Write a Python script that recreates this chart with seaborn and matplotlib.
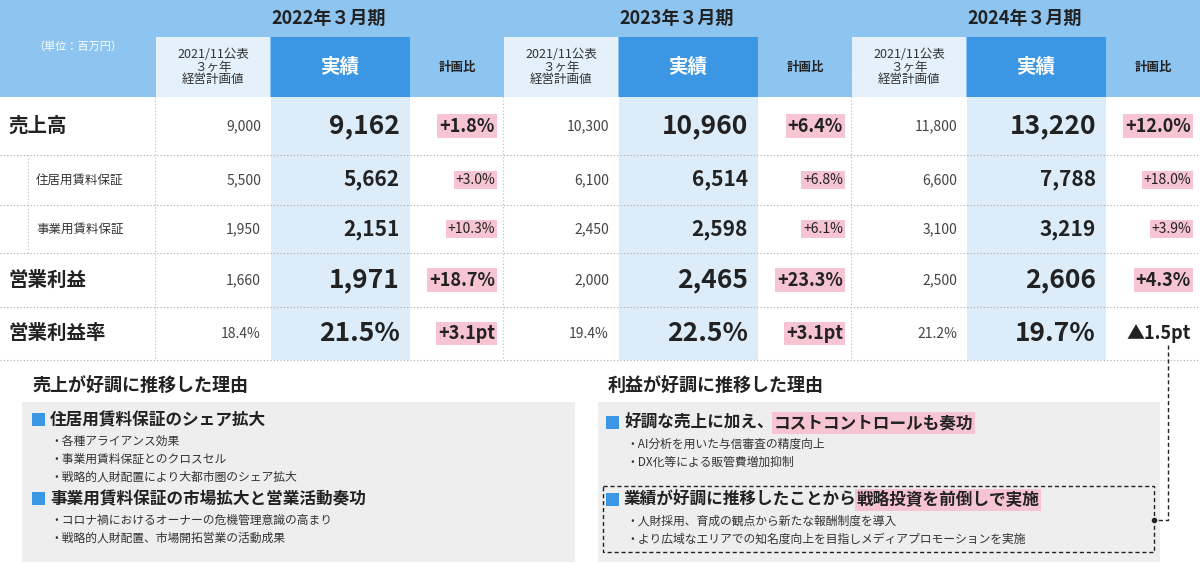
import matplotlib
matplotlib.use("Agg")
import matplotlib.pyplot as plt
import seaborn as sns
from matplotlib.patches import Rectangle

sns.set_theme(style="white")
plt.rcParams["font.family"] = "Noto Sans CJK JP"

years = ["2022年３月期", "2023年３月期", "2024年３月期"]
row_labels = ["売上高", "住居用賃料保証", "事業用賃料保証", "営業利益", "営業利益率"]
plan = [["9,000", "5,500", "1,950", "1,660", "18.4%"],
        ["10,300", "6,100", "2,450", "2,000", "19.4%"],
        ["11,800", "6,600", "3,100", "2,500", "21.2%"]]
actual = [["9,162", "5,662", "2,151", "1,971", "21.5%"],
          ["10,960", "6,514", "2,598", "2,465", "22.5%"],
          ["13,220", "7,788", "3,219", "2,606", "19.7%"]]
ratio = [["+1.8%", "+3.0%", "+10.3%", "+18.7%", "+3.1pt"],
         ["+6.4%", "+6.8%", "+6.1%", "+23.3%", "+3.1pt"],
         ["+12.0%", "+18.0%", "+3.9%", "+4.3%", "▲1.5pt"]]
left_title = "売上が好調に推移した理由"
left_items = [("住居用賃料保証のシェア拡大", ["・各種アライアンス効果", "・事業用賃料保証とのクロスセル", "・戦略的人財配置により大都市圏のシェア拡大"]),
              ("事業用賃料保証の市場拡大と営業活動奏功", ["・コロナ禍におけるオーナーの危機管理意識の高まり", "・戦略的人財配置、市場開拓営業の活動成果"])]
right_title = "利益が好調に推移した理由"
right_items = [("好調な売上に加え、", "コストコントロールも奏功", ["・AI分析を用いた与信審査の精度向上", "・DX化等による販管費増加抑制"]),
               ("業績が好調に推移したことから", "戦略投資を前倒しで実施", ["・人財採用、育成の観点から新たな報酬制度を導入", "・より広域なエリアでの知名度向上を目指しメディアプロモーションを実施"])]

fig = plt.figure(figsize=(12, 5.64), dpi=100)
ax = fig.add_axes([0, 0, 1, 1])
ax.set_xlim(0, 1200); ax.set_ylim(564, 0); ax.axis("off")

TOP = "#8ec4f0"; DARK = "#3b97e3"; LIGHT = "#dcecf9"; PALE = "#e4f0fa"; PINK = "#f6c4d2"
ax.add_patch(Rectangle((0, 0), 1200, 97, color=TOP, lw=0))
rows_y = [97, 155, 205, 253, 307, 360]
groups = [155, 503, 851]
ax.text(78, 47, "（単位：百万円）", ha="center", va="center", fontsize=8, color="white")
for g, x0 in enumerate(groups):
    ax.text(x0 + 174, 18, years[g], ha="center", va="center", fontsize=13, weight="bold", color="#222")
    ax.add_patch(Rectangle((x0 + 1, 37), 114, 60, color=PALE, lw=0))
    ax.add_patch(Rectangle((x0 + 116, 37), 139, 60, color=DARK, lw=0))
    ax.add_patch(Rectangle((x0 + 116, 97), 139, 263, color=LIGHT, lw=0))
    ax.text(x0 + 58, 67, "2021/11公表\n３ヶ年\n経営計画値", ha="center", va="center", fontsize=9, color="#333", linespacing=1.0)
    ax.text(x0 + 185, 67, "実績", ha="center", va="center", fontsize=14, weight="bold", color="white")
    ax.text(x0 + 302, 67, "計画比", ha="center", va="center", fontsize=9, weight="bold", color="#222")
    if g > 0:
        ax.plot([x0, x0], [0, 360], ls=(0, (1, 2)), color="#bbb", lw=0.8)
    for r in range(5):
        yc = (rows_y[r] + rows_y[r + 1]) / 2
        main = r in (0, 3, 4)
        ax.text(x0 + 106, yc, plan[g][r], ha="right", va="center", fontsize=10, color="#444")
        ax.text(x0 + 245, yc, actual[g][r], ha="right", va="center", fontsize=19 if main else 15, weight="bold", color="#222")
        rt = ratio[g][r]
        bb = None if rt.startswith("▲") else dict(boxstyle="square,pad=0.12", fc=PINK, ec="none")
        ax.text(x0 + 340, yc, rt, ha="right", va="center", fontsize=13 if main else 10,
                weight="bold" if main else "normal", color="#222", bbox=bb)
for r in range(5):
    yc = (rows_y[r] + rows_y[r + 1]) / 2
    if r in (1, 2):
        ax.text(36, yc, row_labels[r], ha="left", va="center", fontsize=9, color="#333")
    else:
        ax.text(8, yc, row_labels[r], ha="left", va="center", fontsize=14, weight="bold", color="#222")
for y in rows_y[1:]:
    ax.plot([0, 1200], [y, y], ls=(0, (1, 2)), color="#aaa", lw=0.8)
ax.plot([155, 155], [97, 360], ls=(0, (1, 2)), color="#bbb", lw=0.8)
ax.plot([28, 28], [155, 253], ls=(0, (1, 2)), color="#bbb", lw=0.8)

# bottom panels
ax.text(32, 386, left_title, ha="left", va="center", fontsize=13, weight="bold", color="#222")
ax.add_patch(Rectangle((22, 402), 553, 160, color="#eeeeee", lw=0))
y = 420
for head, subs in left_items:
    ax.add_patch(Rectangle((32, y - 7), 13, 13, color=DARK, lw=0))
    ax.text(50, y, head, ha="left", va="center", fontsize=12, weight="bold", color="#222")
    y += 21
    for s in subs:
        ax.text(50, y, s, ha="left", va="center", fontsize=8.5, color="#333"); y += 18
    y += 4
ax.text(608, 386, right_title, ha="left", va="center", fontsize=13, weight="bold", color="#222")
ax.add_patch(Rectangle((598, 402), 562, 160, color="#eeeeee", lw=0))
ys = [423, 500]
for (h1, h2, subs), y in zip(right_items, ys):
    ax.add_patch(Rectangle((606, y - 7), 13, 13, color=DARK, lw=0))
    t = ax.text(624, y, h1, ha="left", va="center", fontsize=12, weight="bold", color="#222")
    fig.canvas.draw()
    bb = t.get_window_extent().transformed(ax.transData.inverted())
    ax.text(bb.x1, y, h2, ha="left", va="center", fontsize=12, weight="bold", color="#222",
            bbox=dict(boxstyle="square,pad=0.1", fc=PINK, ec="none"))
    yy = y + 21
    for s in subs:
        ax.text(626, yy, s, ha="left", va="center", fontsize=8.5, color="#333"); yy += 18
ax.add_patch(Rectangle((603, 486), 551, 66, fill=False, ec="#222", ls=(0, (3, 2)), lw=1))
ax.plot([1168, 1168, 1154], [345, 520, 520], ls=(0, (3, 2)), color="#222", lw=1)
ax.plot([1154], [520], "o", color="#222", ms=3)

fig.savefig("out.png", dpi=100)
